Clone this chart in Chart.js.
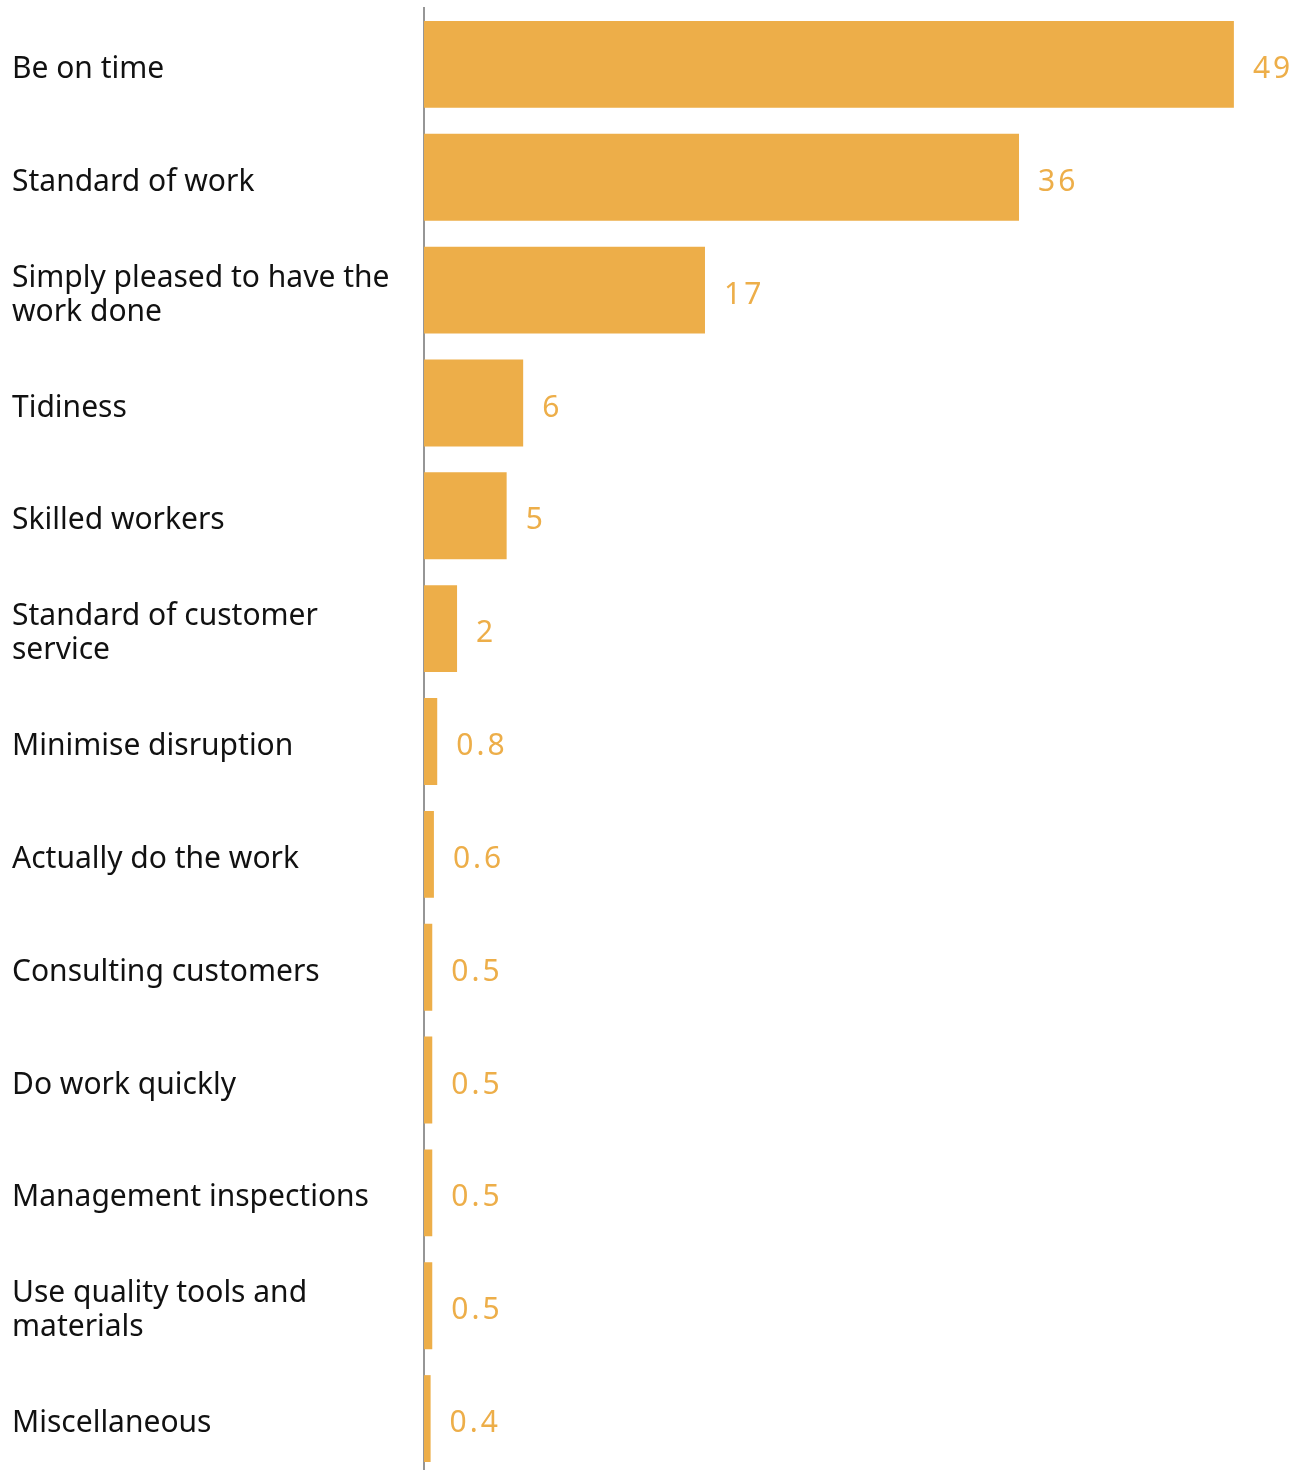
<!DOCTYPE html>
<html>
<head>
<meta charset="utf-8">
<script src="https://cdn.jsdelivr.net/npm/chart.js@4"></script>
<style>
  html, body { margin: 0; padding: 0; background: #fff; overflow: hidden; }
  #wrap { width: 1309px; height: 1476px; position: relative; }
</style>
</head>
<body>
<div id="wrap"><canvas id="barChart"></canvas></div>
<script>
const categories = [
    'Be on time',
    'Standard of work',
    ['Simply pleased to have the', 'work done'],
    'Tidiness',
    'Skilled workers',
    ['Standard of customer', 'service'],
    'Minimise disruption',
    'Actually do the work',
    'Consulting customers',
    'Do work quickly',
    'Management inspections',
    ['Use quality tools and', 'materials'],
    'Miscellaneous'
];
const values = [49, 36, 17, 6, 5, 2, 0.8, 0.6, 0.5, 0.5, 0.5, 0.5, 0.4];

const barColor = '#EDAE49';

// value labels to the right of each bar
const valueLabels = {
    id: 'valueLabels',
    afterDatasetsDraw(chart) {
        const ctx = chart.ctx;
        const meta = chart.getDatasetMeta(0);
        ctx.save();
        ctx.fillStyle = barColor;
        ctx.font = '30px "Noto Sans"';
        ctx.letterSpacing = '3px';
        ctx.textAlign = 'left';
        ctx.textBaseline = 'middle';
        meta.data.forEach((bar, i) => {
            ctx.fillText(String(values[i]), bar.x + 19, bar.y + 5);
        });
        ctx.restore();
    }
};

new Chart(document.getElementById('barChart'), {
    type: 'bar',
    data: {
        labels: categories,
        datasets: [{
            data: values,
            backgroundColor: barColor,
            barPercentage: 0.77,
            categoryPercentage: 1
        }]
    },
    options: {
        indexAxis: 'y',
        responsive: true,
        maintainAspectRatio: false,
        animation: false,
        layout: { padding: { left: 12, top: 8, right: 9, bottom: 1 } },
        plugins: {
            legend: { display: false },
            tooltip: { enabled: false }
        },
        scales: {
            x: {
                min: 0,
                max: 53,
                display: false,
                grid: { display: false }
            },
            y: {
                grid: { display: false },
                border: { display: true, color: '#969696', width: 2 },
                ticks: {
                    crossAlign: 'far',
                    color: '#111',
                    padding: 0,
                    labelOffset: 5,
                    font: { family: '"Noto Sans"', size: 30, lineHeight: 1.14 }
                },
                afterFit(axis) {
                    axis.width = 412;
                    axis.paddingTop = 0;
                    axis.paddingBottom = 0;
                }
            }
        }
    },
    plugins: [valueLabels]
});
</script>
</body>
</html>
